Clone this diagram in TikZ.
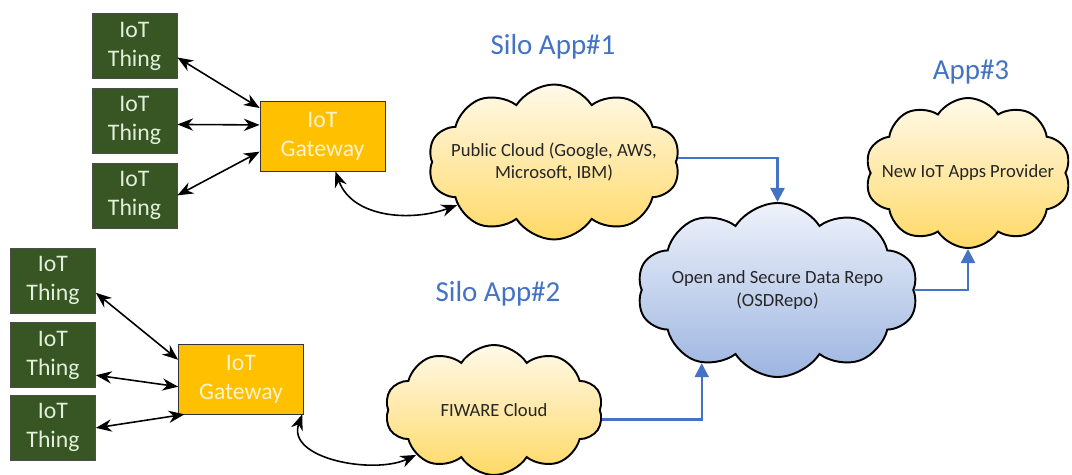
\documentclass[tikz,border=0pt]{standalone}
\usepackage{fontspec}
\setmainfont{Carlito}
\usetikzlibrary{arrows.meta,positioning,shapes.symbols}

\definecolor{thinggreen}{HTML}{375623}
\definecolor{thingtext}{HTML}{E2EFDA}
\definecolor{gwyellow}{HTML}{FFC000}
\definecolor{gwtext}{HTML}{FFF2CC}
\definecolor{linkblue}{HTML}{4472C4}
\definecolor{warmtop}{HTML}{FFF9E9}
\definecolor{warmbottom}{HTML}{FFD966}
\definecolor{cooltop}{HTML}{EEF2FA}
\definecolor{coolbottom}{HTML}{9DB5E1}

\tikzset{
  thing/.style={draw=black!70, fill=thinggreen, text=thingtext, minimum width=1.7cm,
    minimum height=1.3cm, align=center, font=\fontsize{13.5}{16.5}\selectfont},
  gateway/.style={draw=black!80, fill=gwyellow, text=gwtext, minimum width=2.5cm,
    minimum height=1.4cm, align=center, font=\fontsize{13.5}{16.5}\selectfont},
  cloudy/.style={cloud, cloud puffs=10, cloud puff arc=115, cloud ignores aspect,
    draw, line width=1.1pt, inner sep=0pt},
  cloudtext/.style={align=center, text=black!85, font=\fontsize{10.6}{12.8}\selectfont},
  warm/.style={cloudy, top color=warmtop, bottom color=warmbottom},
  cool/.style={cloudy, top color=cooltop, bottom color=coolbottom},
  apptitle/.style={text=linkblue, font=\fontsize{16.5}{20}\selectfont},
  biarrow/.style={line width=0.9pt, {Stealth[length=9pt,width=7pt]}-{Stealth[length=9pt,width=7pt]}},
  flow/.style={draw=linkblue, line width=1.3pt, -{Triangle[length=8pt,width=8pt]}}
}

\begin{document}
\begin{tikzpicture}
  \useasboundingbox (0,0) rectangle (21.44,-9.5);

  % first silo
  \node[thing] (th1) at (2.69,-0.92) {IoT\\Thing};
  \node[thing] (th2) [below=0.18cm of th1] {IoT\\Thing};
  \node[thing] (th3) [below=0.18cm of th2] {IoT\\Thing};
  \node[gateway] (gw1) at (6.45,-2.72) {IoT\\Gateway};
  \node[warm, minimum width=5.04cm, minimum height=3.1cm,
    label={[cloudtext]center:Public Cloud (Google, AWS,\\Microsoft, IBM)}] (pub) at (11.08,-3.24) {};
  \node[apptitle] (t1) at (11.06,-0.94) {Silo App\#1};

  % second silo
  \node[thing] (bth1) at (1.06,-5.61) {IoT\\Thing};
  \node[thing] (bth2) [below=0.18cm of bth1] {IoT\\Thing};
  \node[thing] (bth3) [below=0.14cm of bth2] {IoT\\Thing};
  \node[gateway] (gw2) at (4.82,-7.58) {IoT\\Gateway};
  \node[warm, minimum width=4.36cm, minimum height=2.6cm,
    label={[cloudtext]center:FIWARE Cloud}] (fw) at (9.88,-8.2) {};
  \node[apptitle] (t2) at (9.96,-5.88) {Silo App\#2};

  % repo and new apps
  \node[cool, minimum width=5.62cm, minimum height=3.48cm,
    label={[cloudtext]center:Open and Secure Data Repo\\(OSDRepo)}] (osd) at (15.55,-5.8) {};
  \node[warm, minimum width=4.12cm, minimum height=3cm,
    label={[cloudtext]center:New IoT Apps Provider}] (app) at (19.36,-3.46) {};
  \node[apptitle] (t3) at (19.42,-1.44) {App\#3};

  \path[biarrow] (th1.-15) edge (gw1.156)
                 (th2.-5) edge (gw1.170)
                 (th3.east) edge (gw1.194)
                 (bth1.-16) edge (gw2.163)
                 (bth2.-25) edge (gw2.187)
                 (bth3.east) edge (gw2.212);

  \draw[biarrow] (gw1.290) to[out=-70,in=200] (pub.204);
  \draw[biarrow] (gw2.330) to[out=-110,in=205] (fw.210);

  \draw[flow] (pub.2) -| (osd.north);
  \draw[flow] (fw.-5) -| (osd.224);
  \draw[flow] (osd.east) -| (app.south);
\end{tikzpicture}
\end{document}
